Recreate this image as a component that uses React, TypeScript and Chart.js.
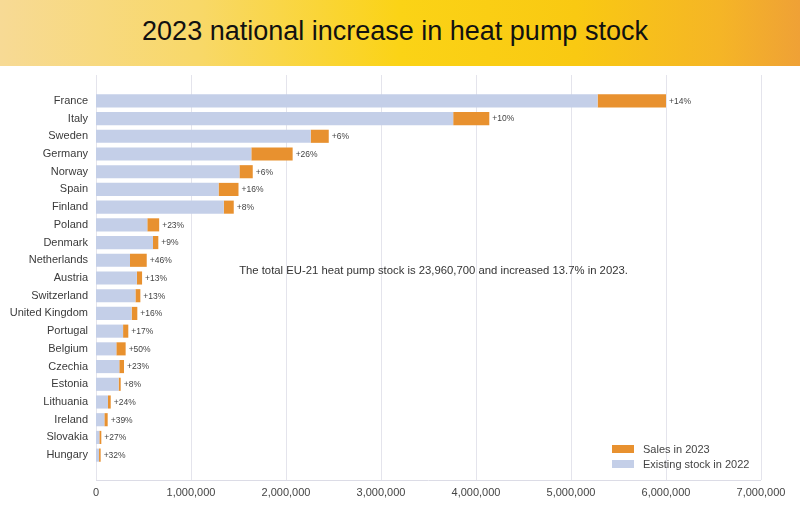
import React, { useEffect, useRef } from "react";
import { Chart, registerables } from "chart.js";

Chart.register(...registerables);

const countries = [
  "France", "Italy", "Sweden", "Germany", "Norway", "Spain", "Finland", "Poland",
  "Denmark", "Netherlands", "Austria", "Switzerland", "United Kingdom", "Portugal",
  "Belgium", "Czechia", "Estonia", "Lithuania", "Ireland", "Slovakia", "Hungary",
];
const existingStock2022 = [
  5280000, 3760000, 2260000, 1635000, 1510000, 1290000, 1345000, 540000,
  600000, 358000, 430000, 415000, 375000, 285000,
  214000, 245000, 238000, 126000, 88000, 35000, 32000,
];
const sales2023 = [
  720000, 380000, 190000, 435000, 140000, 210000, 105000, 125000,
  56000, 176000, 55000, 52000, 60000, 55000,
  98000, 50000, 22000, 29000, 35000, 21000, 17000,
];
const increaseLabels = [
  "+14%", "+10%", "+6%", "+26%", "+6%", "+16%", "+8%", "+23%",
  "+9%", "+46%", "+13%", "+13%", "+16%", "+17%",
  "+50%", "+23%", "+8%", "+24%", "+39%", "+27%", "+32%",
];
const xMin = 0;
const xMax = 7000000;
const xStep = 1000000;

const titleText = "2023 national increase in heat pump stock";
const noteText = "The total EU-21 heat pump stock is 23,960,700 and increased 13.7% in 2023.";
const salesLabel = "Sales in 2023";
const existingLabel = "Existing stock in 2022";

const FONT = "'Liberation Sans', Arial, Helvetica, sans-serif";
const ORANGE = "#E8912F";
const LIGHTBLUE = "#C4CFE8";
const GRID = "#E4E4EC";
const TEXT = "#3A3A3A";

const overlayPlugin = {
  id: "overlay",
  beforeDatasetsDraw(chart: any) {
    const { ctx, scales } = chart;
    const x = scales.x;
    ctx.save();
    ctx.strokeStyle = GRID;
    ctx.lineWidth = 1;
    const top = 9;
    const bottom = 414;
    x.ticks.forEach((t: any) => {
      const px = Math.round(x.getPixelForValue(t.value)) + 0.5;
      ctx.beginPath();
      ctx.moveTo(px, top);
      ctx.lineTo(px, bottom);
      ctx.stroke();
    });
    ctx.strokeStyle = "#DCDCE6";
    ctx.beginPath();
    ctx.moveTo(x.left, bottom + 0.5);
    ctx.lineTo(x.right, bottom + 0.5);
    ctx.stroke();
    ctx.restore();
  },
  afterDatasetsDraw(chart: any) {
    const { ctx } = chart;
    ctx.save();
    const metaSales = chart.getDatasetMeta(1);
    ctx.font = `8.5px ${FONT}`;
    ctx.fillStyle = "#444";
    ctx.textAlign = "left";
    ctx.textBaseline = "middle";
    metaSales.data.forEach((bar: any, i: number) => {
      ctx.fillText(increaseLabels[i], bar.x + 3, bar.y + 0.5);
    });
    ctx.font = `11.3px ${FONT}`;
    ctx.fillStyle = "#333";
    ctx.textAlign = "center";
    ctx.fillText(noteText, 433.5, 205);
    const items = [
      { label: chart.data.datasets[1].label, color: chart.data.datasets[1].backgroundColor },
      { label: chart.data.datasets[0].label, color: chart.data.datasets[0].backgroundColor },
    ];
    ctx.textAlign = "left";
    ctx.font = `11px ${FONT}`;
    items.forEach((it, k) => {
      const cy = 383 + k * 15;
      ctx.fillStyle = it.color;
      ctx.fillRect(612, cy - 4, 22, 8);
      ctx.fillStyle = "#444";
      ctx.fillText(it.label, 643, cy + 0.5);
    });
    ctx.restore();
  },
};

export default function App() {
  const ref = useRef<HTMLCanvasElement | null>(null);

  useEffect(() => {
    document.body.style.margin = "0";
    if (!ref.current) return;
    const chart = new Chart(ref.current, {
      type: "bar",
      data: {
        labels: countries,
        datasets: [
          {
            label: existingLabel,
            data: existingStock2022,
            backgroundColor: LIGHTBLUE,
            borderWidth: 0,
            barPercentage: 0.74,
            categoryPercentage: 1,
          },
          {
            label: salesLabel,
            data: sales2023,
            backgroundColor: ORANGE,
            borderWidth: 0,
            barPercentage: 0.74,
            categoryPercentage: 1,
          },
        ],
      },
      options: {
        indexAxis: "y",
        responsive: false,
        animation: false,
        layout: { padding: { top: 26, right: 39, left: 0, bottom: 0 } },
        plugins: {
          legend: { display: false },
          tooltip: { enabled: false },
          title: { display: false },
        },
        scales: {
          x: {
            stacked: true,
            min: xMin,
            max: xMax,
            grid: { display: false, drawTicks: false },
            border: { display: false },
            ticks: {
              stepSize: xStep,
              padding: 22,
              color: "#444",
              font: { family: FONT, size: 11 },
              callback: (v: any) => Number(v).toLocaleString("en-US"),
            },
            afterFit: (s: any) => {
              s.height = 46;
              s.paddingLeft = 0;
              s.paddingRight = 0;
            },
          },
          y: {
            stacked: true,
            grid: { display: false, drawTicks: false },
            border: { display: false },
            ticks: {
              padding: 8,
              color: TEXT,
              font: { family: FONT, size: 11 },
              autoSkip: false,
            },
            afterFit: (s: any) => {
              s.width = 96;
              s.paddingTop = 0;
              s.paddingBottom = 0;
            },
          },
        },
      },
      plugins: [overlayPlugin],
    });
    return () => chart.destroy();
  }, []);

  return (
    <div style={{ position: "absolute", left: 0, top: 0, width: 800, height: 510, background: "#fff", overflow: "hidden" }}>
      <div
        style={{
          height: 66,
          width: 800,
          background:
            "linear-gradient(90deg, #F7DA95 0%, #F8D868 25%, #FBD316 50%, #F9C912 72%, #F5B526 90%, #EFA136 100%)",
          display: "flex",
          alignItems: "center",
          justifyContent: "center",
        }}
      >
        <div style={{ fontFamily: FONT, fontSize: 27, color: "#111", marginTop: -3, marginLeft: -10 }}>{titleText}</div>
      </div>
      <canvas ref={ref} width={800} height={444} style={{ display: "block", width: 800, height: 444 }} />
    </div>
  );
}
